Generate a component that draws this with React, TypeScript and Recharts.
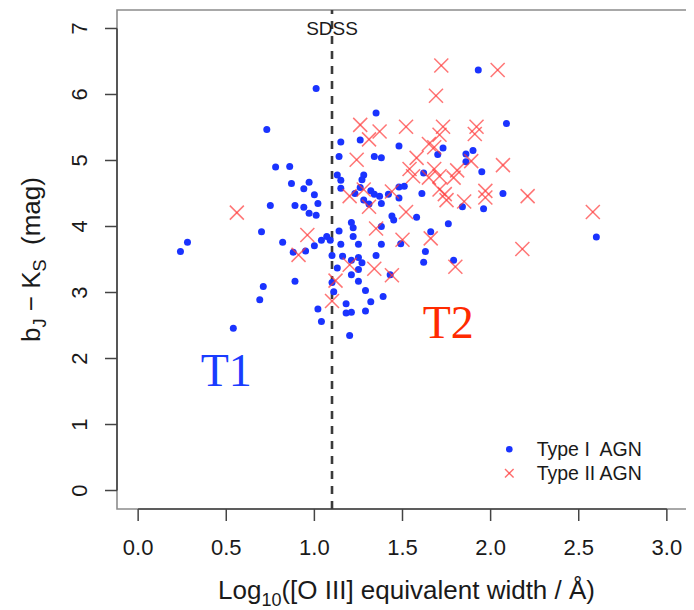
import {
  ScatterChart,
  Scatter,
  XAxis,
  YAxis,
  ReferenceLine,
  ReferenceArea,
} from "recharts";

// Type I AGN (blue dots): log10 [O III] EW and bJ - Ks colour
const type1X = [
  1.01, 0.73, 0.78, 0.86, 0.87, 0.94, 0.97, 1.0, 1.02, 0.75, 0.89, 0.94, 0.97, 1.01, 0.7,
  0.28, 0.24, 0.82, 0.88, 0.95, 1.0, 1.04, 1.07, 0.89, 0.71, 0.69, 1.02, 1.04, 0.54,
  1.35, 1.15, 1.26, 1.48, 1.14, 1.34, 1.38, 1.73, 1.7, 1.86, 1.9, 1.86, 1.95, 1.13, 1.15,
  1.28, 1.27, 1.15, 1.62, 1.26, 1.23, 1.32, 1.34, 1.37, 1.48, 1.51, 1.42, 1.48, 1.61, 1.28,
  1.31, 1.38, 1.84, 1.96, 1.44, 1.45, 1.58, 1.21, 1.22, 1.38, 1.76, 1.14, 1.09, 1.15, 1.22,
  1.25, 1.66, 1.38, 1.49,
  1.1, 1.16, 1.21, 1.25, 1.27, 1.35, 1.13, 1.25, 1.63, 1.62, 1.79, 1.21, 1.43, 1.25, 1.1,
  1.11, 1.29, 1.39, 1.32, 1.18, 1.18, 1.21, 1.29, 1.2,
  1.93, 2.09, 2.07, 2.6,
];
const type1Y = [
  6.09, 5.47, 4.9, 4.91, 4.65, 4.57, 4.67, 4.48, 4.35, 4.32, 4.32, 4.29, 4.2, 4.17, 3.92,
  3.76, 3.62, 3.76, 3.61, 3.63, 3.71, 3.79, 3.85, 3.17, 3.09, 2.89, 2.75, 2.56, 2.46,
  5.72, 5.28, 5.31, 5.22, 5.06, 5.06, 5.04, 5.19, 5.09, 5.1, 5.15, 4.98, 4.83, 4.78, 4.7,
  4.78, 4.71, 4.58, 4.81, 4.59, 4.5, 4.54, 4.49, 4.46, 4.6, 4.61, 4.49, 4.43, 4.5, 4.4,
  4.34, 4.35, 4.3, 4.27, 4.16, 4.1, 4.14, 4.06, 3.98, 4.0, 4.04, 3.93, 3.79, 3.73, 3.85,
  3.73, 3.92, 3.73, 3.74,
  3.56, 3.55, 3.49, 3.53, 3.45, 3.56, 3.37, 3.35, 3.62, 3.46, 3.49, 3.27, 3.27, 3.17, 3.15,
  3.01, 3.03, 2.94, 2.86, 2.83, 2.69, 2.7, 2.72, 2.35,
  6.37, 5.56, 4.5, 3.84,
];

// Type II AGN (red crosses)
const type2X = [
  0.56, 0.96, 0.91, 1.12, 1.1, 1.69, 1.26, 1.31, 1.37, 1.52, 1.24, 1.73, 1.71, 1.92, 1.91,
  1.65, 1.68, 1.58, 1.54, 1.56, 1.68, 1.65, 1.71, 1.81, 1.79, 1.89, 1.71, 1.74, 1.75, 1.85,
  1.97, 1.97, 1.2, 1.28, 1.31, 1.44, 1.52, 1.35, 1.5, 1.66, 1.2, 1.34, 1.44, 1.8, 2.04,
  2.07, 2.21, 2.58, 2.18, 1.72,
];
const type2Y = [
  4.21, 3.87, 3.57, 3.18, 2.87, 5.98, 5.54, 5.32, 5.44, 5.51, 5.01, 5.51, 5.39, 5.51, 5.4,
  5.25, 5.2, 5.04, 4.87, 4.76, 4.87, 4.74, 4.76, 4.85, 4.74, 4.99, 4.56, 4.49, 4.4, 4.38,
  4.54, 4.44, 4.46, 4.56, 4.3, 4.53, 4.22, 3.97, 3.8, 3.82, 3.42, 3.36, 3.26, 3.39, 6.37,
  4.93, 4.46, 4.22, 3.66, 6.44,
];

const xTicks = [0, 0.5, 1, 1.5, 2, 2.5, 3];
const yTicks = [0, 1, 2, 3, 4, 5, 6, 7];
const sdssCut = 1.1;

// text annotations placed in data units
const t1Label = [{ x: 0.5, y: 1.59, text: "T1" }];
const t2Label = [{ x: 1.76, y: 2.31, text: "T2" }];

const type1 = type1X.map((x, i) => ({ x, y: type1Y[i] }));
const type2 = type2X.map((x, i) => ({ x, y: type2Y[i] }));

const FONT = '"Liberation Sans", Arial, Helvetica, sans-serif';
const SERIF = '"Liberation Serif", "Times New Roman", serif';
const BLUE = "#1a33ff";
const RED = "#ff3b3b";

const BlueDot = (p: any) => <circle cx={p.cx} cy={p.cy} r={3.5} fill={BLUE} />;

const RedCross = (p: any) => {
  const s = 7;
  return (
    <g stroke={RED} strokeOpacity={0.7} strokeWidth={1.5}>
      <line x1={p.cx - s} y1={p.cy - s} x2={p.cx + s} y2={p.cy + s} />
      <line x1={p.cx - s} y1={p.cy + s} x2={p.cx + s} y2={p.cy - s} />
    </g>
  );
};

const textShape = (color: string) => (p: any) => (
  <text
    x={p.cx}
    y={p.cy}
    textAnchor="middle"
    fontFamily={SERIF}
    fontSize={46}
    fill={color}
  >
    {p.payload.text}
  </text>
);

const XTick = (p: any) => (
  <text x={p.x} y={p.y + 32} textAnchor="middle" fontSize={22} fontFamily={FONT} fill="#1a1a1a">
    {Number(p.payload.value).toFixed(1)}
  </text>
);

const YTick = (p: any) => (
  <text
    x={p.x}
    y={p.y}
    transform={`rotate(-90, ${p.x}, ${p.y})`}
    textAnchor="middle"
    fontSize={22}
    fontFamily={FONT}
    fill="#1a1a1a"
  >
    {p.payload.value}
  </text>
);

const XTitle = (props: any) => {
  const vb = props?.viewBox ?? { x: 109, y: 501, width: 571 };
  return (
    <text
      x={vb.x + vb.width / 2 + 4}
      y={vb.y + 90}
      textAnchor="middle"
      fontSize={26}
      fontFamily={FONT}
      fill="#1a1a1a"
    >
      Log
      <tspan fontSize={18} dy={7}>10</tspan>
      <tspan dy={-7}>([O III] equivalent width / Å)</tspan>
    </text>
  );
};

const YTitle = (props: any) => {
  const vb = props?.viewBox ?? { x: 0, y: 2, width: 109, height: 499 };
  const cx = 32;
  const cy = vb.y + vb.height / 2;
  return (
    <text
      x={cx}
      y={cy}
      transform={`rotate(-90, ${cx}, ${cy})`}
      textAnchor="middle"
      fontSize={26}
      fontFamily={FONT}
      fill="#1a1a1a"
      style={{ whiteSpace: "pre" }}
    >
      b<tspan fontSize={18} dy={6}>J</tspan>
      <tspan dy={-6}> − K</tspan>
      <tspan fontSize={18} dy={6}>S</tspan>
      <tspan dy={-6}>{"  (mag)"}</tspan>
    </text>
  );
};

const SdssLabel = (props: any) => {
  const vb = props?.viewBox ?? { x: 325, y: 2 };
  return (
    <text x={vb.x} y={vb.y + 25} textAnchor="middle" fontSize={19} fontFamily={FONT} fill="#1a1a1a">
      SDSS
    </text>
  );
};

export default function App() {
  return (
    <div style={{ position: "relative", width: 686, height: 602 }}>
      <ScatterChart width={686} height={602} margin={{ top: 2, right: 6, bottom: 1, left: 0 }}>
        <XAxis
          type="number"
          dataKey="x"
          domain={[-0.12, 3.12]}
          allowDataOverflow
          ticks={xTicks}
          interval={0}
          axisLine={false}
          tickLine={{ stroke: "#444", strokeWidth: 1.5 }}
          tickSize={12}
          height={100}
          tick={XTick}
          label={XTitle}
        />
        <YAxis
          type="number"
          dataKey="y"
          domain={[-0.28, 7.28]}
          allowDataOverflow
          ticks={yTicks}
          interval={0}
          axisLine={false}
          tickLine={{ stroke: "#444", strokeWidth: 1.5 }}
          tickSize={12}
          tickMargin={18}
          width={109}
          tick={YTick}
          label={YTitle}
        />
        <ReferenceArea
          x1={-0.12}
          x2={3.12}
          y1={-0.28}
          y2={7.28}
          fill="none"
          stroke="#8c8c8c"
          strokeWidth={1.6}
          ifOverflow="visible"
        />
        <ReferenceLine
          segment={[{ x: -0.12, y: 0 }, { x: -0.12, y: 7 }]}
          stroke="#444"
          strokeWidth={1.6}
          ifOverflow="visible"
        />
        <ReferenceLine
          segment={[{ x: 0, y: -0.28 }, { x: 3, y: -0.28 }]}
          stroke="#444"
          strokeWidth={1.6}
          ifOverflow="visible"
        />
        <ReferenceLine
          x={sdssCut}
          stroke="#3a3a3a"
          strokeWidth={2.6}
          strokeDasharray="8 7"
          label={SdssLabel}
        />
        <Scatter name="Type I AGN" data={type1} shape={BlueDot} isAnimationActive={false} />
        <Scatter name="Type II AGN" data={type2} shape={RedCross} isAnimationActive={false} />
        <Scatter data={t1Label} shape={textShape("#1a3cff")} isAnimationActive={false} />
        <Scatter data={t2Label} shape={textShape("#ff2a00")} isAnimationActive={false} />
      </ScatterChart>
      <svg
        width={686}
        height={602}
        style={{ position: "absolute", left: 0, top: 0, pointerEvents: "none" }}
      >
        <circle cx={501.3} cy={441.3} r={3.3} fill={BLUE} />
        <text x={528.7} y={448} fontSize={19.5} fontFamily={FONT} fill="#1a1a1a" style={{ whiteSpace: "pre" }}>
          {"Type I  AGN"}
        </text>
        <g stroke={RED} strokeOpacity={0.75} strokeWidth={1.4}>
          <line x1={497} y1={461} x2={505.6} y2={469.6} />
          <line x1={497} y1={469.6} x2={505.6} y2={461} />
        </g>
        <text x={528.7} y={472} fontSize={19.5} fontFamily={FONT} fill="#1a1a1a">
          Type II AGN
        </text>
      </svg>
    </div>
  );
}
